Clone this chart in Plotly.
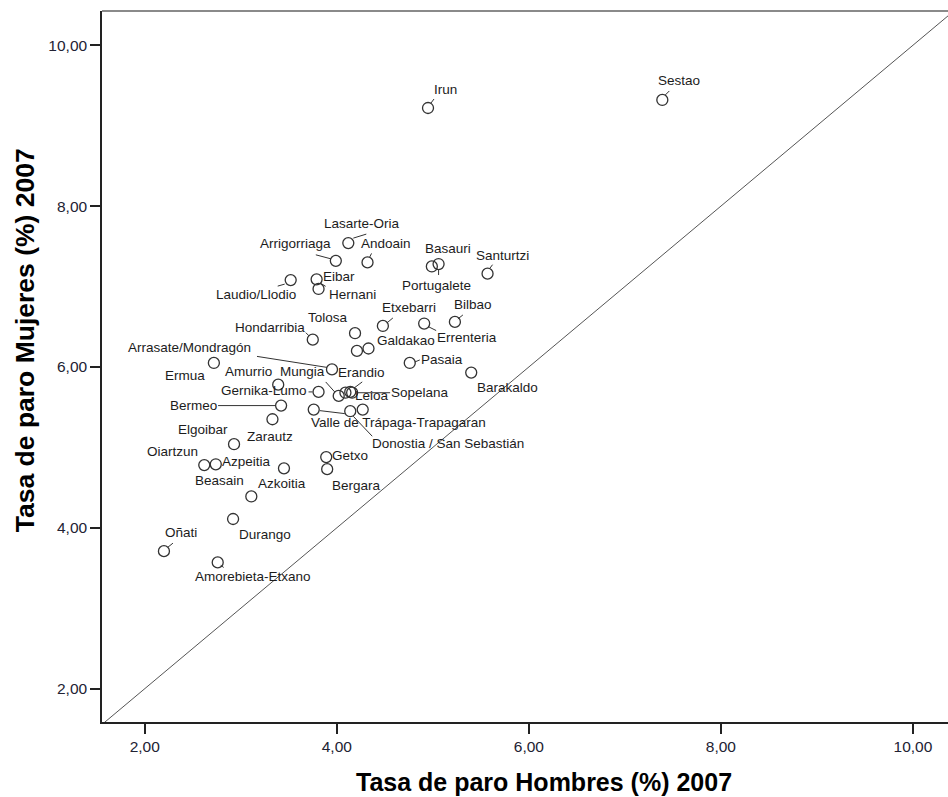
import plotly.graph_objects as go

# Tasas de paro 2007 por municipio (%)
municipios = [
    "Irun", "Sestao", "Lasarte-Oria", "Arrigorriaga", "Andoain", "Basauri",
    "Portugalete", "Santurtzi", "Laudio/Llodio", "Eibar", "Hernani", "Tolosa",
    "Etxebarri", "Hondarribia", "Galdakao", "Errenteria", "Bilbao", "Pasaia",
    "Barakaldo", "Ermua", "Arrasate/Mondragón", "Amurrio", "Gernika-Lumo",
    "Mungia", "Leioa", "Erandio", "Sopelana", "Bermeo",
    "Valle de Trápaga-Trapagaran", "Donostia / San Sebastián", "Zarautz",
    "Elgoibar", "Oiartzun", "Azpeitia", "Azkoitia", "Beasain", "Getxo",
    "Bergara", "Durango", "Oñati", "Amorebieta-Etxano",
]
paro_hombres = [
    4.95, 7.39, 4.12, 3.99, 4.32, 4.99,
    5.06, 5.57, 3.52, 3.79, 3.81, 4.19,
    4.48, 3.75, 4.33, 4.91, 5.23, 4.76,
    5.40, 2.72, 3.95, 3.39, 3.81,
    4.02, 4.09, 4.14, 4.16, 3.42,
    3.76, 4.14, 3.33,
    2.93, 2.62, 2.74, 3.45, 3.11, 3.89,
    3.90, 2.92, 2.20, 2.76,
]
paro_mujeres = [
    9.22, 9.32, 7.54, 7.32, 7.30, 7.25,
    7.28, 7.16, 7.08, 7.09, 6.97, 6.42,
    6.51, 6.34, 6.23, 6.54, 6.56, 6.05,
    5.93, 6.05, 5.97, 5.78, 5.69,
    5.64, 5.68, 5.69, 5.68, 5.52,
    5.47, 5.45, 5.35,
    5.04, 4.78, 4.79, 4.74, 4.39, 4.88,
    4.73, 4.11, 3.71, 3.57,
]
# Casos sin etiqueta visible
otros_hombres = [4.21, 4.27]
otros_mujeres = [6.20, 5.47]

ticks = [2, 4, 6, 8, 10]

# Posición de cada etiqueta (px respecto al punto; dy positivo hacia abajo)
etiqueta_pos = {
    "Irun": (17, -19), "Sestao": (17, -19), "Lasarte-Oria": (14, -20),
    "Arrigorriaga": (-40, -17), "Andoain": (18, -19), "Basauri": (16, -18),
    "Portugalete": (-2, 21), "Santurtzi": (15, -18), "Laudio/Llodio": (-35, 14),
    "Eibar": (22, -3), "Hernani": (34, 6), "Tolosa": (-27, -16),
    "Etxebarri": (26, -18), "Hondarribia": (-43, -12), "Galdakao": (38, -8),
    "Errenteria": (43, 14), "Bilbao": (18, -17), "Pasaia": (32, -3),
    "Barakaldo": (36, 15), "Ermua": (-29, 13), "Arrasate/Mondragón": (-142, -22),
    "Amurrio": (-30, -13), "Gernika-Lumo": (-55, -1), "Mungia": (-36, -24),
    "Leioa": (27, 3), "Erandio": (11, -19), "Sopelana": (68, 0),
    "Bermeo": (-88, 0), "Valle de Trápaga-Trapagaran": (85, 13),
    "Donostia / San Sebastián": (98, 32), "Zarautz": (-2, 17),
    "Elgoibar": (-31, -15), "Oiartzun": (-32, -14), "Azpeitia": (31, -3),
    "Azkoitia": (-2, 15), "Beasain": (-32, -16), "Getxo": (24, -2),
    "Bergara": (29, 16), "Durango": (32, 15), "Oñati": (17, -19),
    "Amorebieta-Etxano": (35, 14),
}

# Líneas guía entre punto y etiqueta (px respecto al punto; dy hacia abajo)
guias = {
    "Irun": (3, -5, 6, -9), "Sestao": (3, -5, 7, -9),
    "Lasarte-Oria": (5, -5, 18, -9), "Arrigorriaga": (-20, -6, -5, -2),
    "Andoain": (2, -5, 4, -9), "Portugalete": (0, 6, 0, 11),
    "Santurtzi": (2, -5, 5, -9), "Laudio/Llodio": (-6, 4, -13, 6),
    "Eibar": (4, 4, 9, 7), "Etxebarri": (4, -3, 10, -8),
    "Hondarribia": (-7, -7, -4, -4), "Errenteria": (4, 3, 12, 7),
    "Bilbao": (3, -3, 8, -7), "Pasaia": (5, -1, 10, -3),
    "Arrasate/Mondragón": (-75, -13, -5, -2), "Mungia": (-13, -14, -4, -4),
    "Erandio": (4, -4, 12, -10), "Sopelana": (5, 0, 38, 0),
    "Gernika-Lumo": (-10, 0, -6, 0), "Bermeo": (-63, 0, -6, 0),
    "Valle de Trápaga-Trapagaran": (6, 1, 31, 4),
    "Donostia / San Sebastián": (3, 5, 22, 25), "Oñati": (4, -4, 9, -8),
    "Amorebieta-Etxano": (3, 3, 6, 5),
}

FONT = "Liberation Sans, Arial, sans-serif"
INK = "#1c1c1c"

fig = go.Figure()

# Línea de igualdad y = x
fig.add_trace(go.Scatter(
    x=[0, 12], y=[0, 12], mode="lines",
    line=dict(color="#555555", width=1), hoverinfo="skip", showlegend=False,
))

marker = dict(symbol="circle-open", size=11, color="#333333",
              line=dict(width=1.3, color="#333333"))

fig.add_trace(go.Scatter(
    x=paro_hombres, y=paro_mujeres, mode="markers", text=municipios,
    marker=marker, showlegend=False,
))
fig.add_trace(go.Scatter(
    x=otros_hombres, y=otros_mujeres, mode="markers",
    marker=marker, showlegend=False,
))

annotations = []
shapes = []
for name, hx, my in zip(municipios, paro_hombres, paro_mujeres):
    dx, dy = etiqueta_pos[name]
    annotations.append(dict(
        x=hx, y=my, xref="x", yref="y", text=name, showarrow=False,
        xshift=dx, yshift=-dy, xanchor="center", yanchor="middle",
        font=dict(family=FONT, size=13.5, color=INK),
    ))
    if name in guias:
        x0, y0, x1, y1 = guias[name]
        shapes.append(dict(
            type="line", xref="x", yref="y",
            xsizemode="pixel", ysizemode="pixel",
            xanchor=hx, yanchor=my,
            x0=x0, x1=x1, y0=-y0, y1=-y1,
            line=dict(color="#333333", width=1),
        ))

# Marco superior
shapes.append(dict(type="line", xref="paper", yref="paper", x0=0, x1=1, y0=1, y1=1,
                   line=dict(color="#8a8a8a", width=2)))

# Títulos de los ejes
annotations.append(dict(
    x=0.5225, y=-0.0844, xref="paper", yref="paper", showarrow=False,
    text="<b>Tasa de paro Hombres (%) 2007</b>", xanchor="center", yanchor="middle",
    font=dict(family=FONT, size=25, color="#000000"),
))
annotations.append(dict(
    x=-0.091, y=0.537, xref="paper", yref="paper", showarrow=False, textangle=-90,
    text="<b>Tasa de paro Mujeres (%) 2007</b>", xanchor="center", yanchor="middle",
    font=dict(family=FONT, size=26.5, color="#000000"),
))

axis_common = dict(
    showgrid=False, zeroline=False, showline=True, linecolor="#222222", linewidth=1.5,
    ticks="outside", ticklen=10, tickwidth=2, tickcolor="#222222",
    tickvals=ticks, tickformat=".2f",
    tickfont=dict(family=FONT, size=15.5, color="#222233"),
)

fig.update_layout(
    width=948, height=797,
    margin=dict(l=102, r=0, t=11, b=75),
    paper_bgcolor="white", plot_bgcolor="white",
    separators=",.",
    xaxis=dict(range=[1.555, 10.365], **axis_common),
    yaxis=dict(range=[1.586, 10.426], **axis_common),
    annotations=annotations, shapes=shapes,
    showlegend=False,
)

fig.write_html("out.html")
